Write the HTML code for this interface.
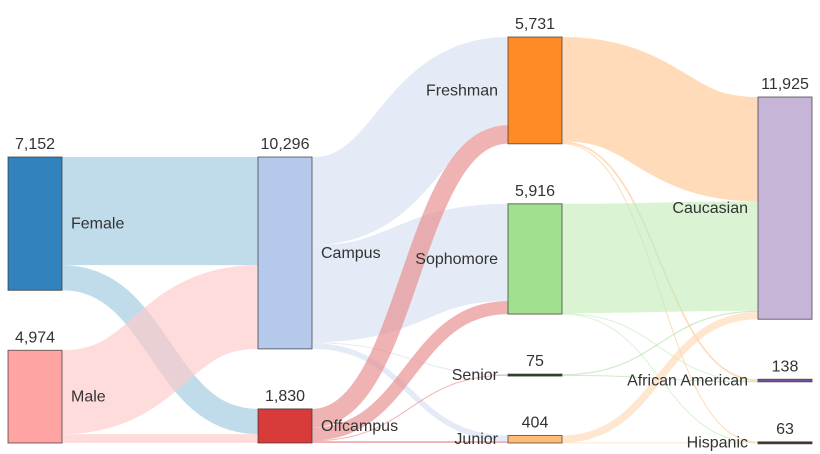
<!DOCTYPE html>
<html><head><meta charset="utf-8"><style>
body{margin:0;background:#fff;}
svg{display:block;font-family:"Liberation Sans",sans-serif;}
</style></head><body>
<svg id="chart" width="820" height="454"></svg>
<script>
const nodeNames=["Female","Male","Campus","Offcampus","Freshman","Sophomore","Senior","Junior","Caucasian","African American","Hispanic"];
const nodeColumns=[0,0,1,1,2,2,2,2,3,3,3];
const nodeColors=["#3182bd","#ffa3a3","#b5c9ea","#d93b3b","#ff8b26","#a0e08f","#1f4d1f","#ffbb78","#c7b5d8","#7b4fa3","#4a2f27"];
const linkColors=["#9ecae1","#ffc9c9","#d6e0f1","#e88a8a","#ffc794","#c4ecbb","#b7e0ae","#ffd8b3","#c7b5d8","#7b4fa3","#4a2f27"];
const linkSources=[0,0,1,1,2,2,2,2,3,3,3,3,4,4,4,5,5,5,6,6,7,7,7];
const linkTargets=[2,3,2,3,4,5,6,7,4,5,6,7,8,9,10,8,9,10,8,9,8,9,10];
const linkValues=[5800,1352,4496,478,4731,5216,45,304,1000,700,30,100,5601,90,40,5866,40,10,67,8,391,0,13];

const svg=document.getElementById('chart');
const NS="http://www.w3.org/2000/svg";
const colX=[8,258,508,758], NW=54, GAP=60, TOP=37, BOT=443;
const n=nodeNames.length;
const val=new Array(n).fill(0), inV=new Array(n).fill(0), outV=new Array(n).fill(0);
linkValues.forEach((v,i)=>{outV[linkSources[i]]+=v;inV[linkTargets[i]]+=v;});
for(let i=0;i<n;i++)val[i]=Math.max(inV[i],outV[i]);
let k=Infinity;
for(let c=0;c<4;c++){const ids=[...Array(n).keys()].filter(i=>nodeColumns[i]===c);
 const s=ids.reduce((a,i)=>a+val[i],0);k=Math.min(k,(BOT-TOP-GAP*(ids.length-1))/s);}
const y0=[],y1=[];
for(let c=0;c<4;c++){const ids=[...Array(n).keys()].filter(i=>nodeColumns[i]===c);
 const s=ids.reduce((a,i)=>a+val[i],0);let y=BOT-s*k-GAP*(ids.length-1);
 ids.forEach(i=>{y0[i]=y;y1[i]=y+val[i]*k;y+=val[i]*k+GAP;});}
const sy=[],ty=[];
for(let i=0;i<n;i++){
 let o=y0[i];
 linkValues.map((v,j)=>j).filter(j=>linkSources[j]===i).sort((a,b)=>y0[linkTargets[a]]-y0[linkTargets[b]])
  .forEach(j=>{sy[j]=o+linkValues[j]*k/2;o+=linkValues[j]*k;});
 o=y0[i];
 linkValues.map((v,j)=>j).filter(j=>linkTargets[j]===i).sort((a,b)=>y0[linkSources[a]]-y0[linkSources[b]])
  .forEach(j=>{ty[j]=o+linkValues[j]*k/2;o+=linkValues[j]*k;});
}
const gL=document.createElementNS(NS,'g');svg.appendChild(gL);
linkValues.forEach((v,j)=>{
 if(v<=0)return;
 const s=linkSources[j],t=linkTargets[j];
 const x0=colX[nodeColumns[s]]+NW,x1=colX[nodeColumns[t]],xm=(x0+x1)/2;
 const p=document.createElementNS(NS,'path');
 p.setAttribute('d',`M${x0},${sy[j]}C${xm},${sy[j]} ${xm},${ty[j]} ${x1},${ty[j]}`);
 p.setAttribute('fill','none');p.setAttribute('stroke',linkColors[s]);
 p.setAttribute('stroke-opacity','0.65');p.setAttribute('stroke-width',Math.max(1,v*k));
 
 
 gL.appendChild(p);
});
const gN=document.createElementNS(NS,'g');svg.appendChild(gN);
for(let i=0;i<n;i++){
 const c=nodeColumns[i],x=colX[c],slug=nodeNames[i].toLowerCase().replace(/ /g,'-');
 const r=document.createElementNS(NS,'rect');
 r.setAttribute('x',x);r.setAttribute('y',y0[i]);r.setAttribute('width',NW);
 r.setAttribute('height',Math.max(2,y1[i]-y0[i]));r.setAttribute('fill',nodeColors[i]);
 r.setAttribute('stroke','#333');r.setAttribute('stroke-opacity','0.7');
 
 
 gN.appendChild(r);
 const tv=document.createElementNS(NS,'text');
 tv.setAttribute('x',x+NW/2);tv.setAttribute('y',y0[i]-8);tv.setAttribute('text-anchor','middle');
 tv.setAttribute('font-size','16');tv.setAttribute('fill','#333');tv.textContent=val[i].toLocaleString('en-US');
 
 
 gN.appendChild(tv);
 const tn=document.createElementNS(NS,'text');
 const left=c>=2;
 tn.setAttribute('x',left?x-10:x+NW+9);tn.setAttribute('y',(y0[i]+y1[i])/2+5);
 tn.setAttribute('text-anchor',left?'end':'start');tn.setAttribute('font-size','16');tn.setAttribute('fill','#333');
 tn.textContent=nodeNames[i];
 
 
 gN.appendChild(tn);
}
</script>
</body></html>
